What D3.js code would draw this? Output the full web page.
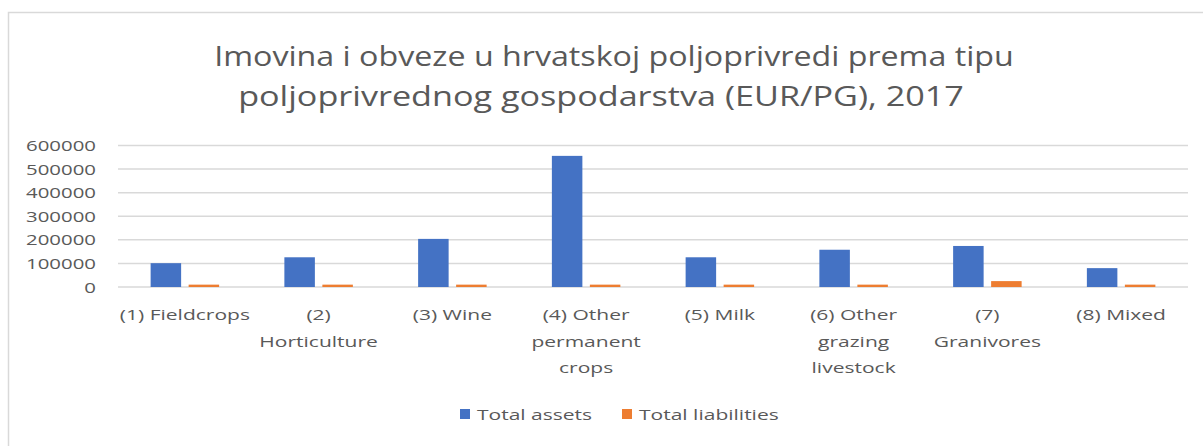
<!DOCTYPE html>
<html>
<head>
<meta charset="utf-8">
<script src="https://cdn.jsdelivr.net/npm/d3@7"></script>
<style>
  html, body { margin: 0; padding: 0; background: #fff; }
  svg { display: block; }
  text { font-family: "Open Sans", sans-serif; fill: #595959; }
</style>
</head>
<body>
<svg id="chart" width="1203" height="446"></svg>
<script>
const titleLines = ["Imovina i obveze u hrvatskoj poljoprivredi prema tipu", "poljoprivrednog gospodarstva (EUR/PG), 2017"];
const categories = ["(1) Fieldcrops", "(2) Horticulture", "(3) Wine", "(4) Other permanent crops", "(5) Milk", "(6) Other grazing livestock", "(7) Granivores", "(8) Mixed"];
const categoryLines = [["(1) Fieldcrops"], ["(2)", "Horticulture"], ["(3) Wine"], ["(4) Other", "permanent", "crops"], ["(5) Milk"], ["(6) Other", "grazing", "livestock"], ["(7)", "Granivores"], ["(8) Mixed"]];
const seriesNames = ["Total assets", "Total liabilities"];
const totalAssets = [101000, 126000, 204000, 556000, 126000, 158000, 174000, 80000];
const totalLiabilities = [10000, 10000, 10000, 10000, 10000, 10000, 25000, 10000];
const yTicks = [0, 100000, 200000, 300000, 400000, 500000, 600000];
const colors = ["#4472C4", "#ED7D31"];

const svg = d3.select("#chart");

function stretch(sel, k) {
  sel.each(function(d, i) {
    const w = this.getComputedTextLength();
    const f = Array.isArray(k) ? k[i] : k;
    d3.select(this).attr("textLength", w * f).attr("lengthAdjust", "spacingAndGlyphs");
  });
}

// border
svg.append("rect").attr("x", 8.5).attr("y", 12.5).attr("width", 1210).attr("height", 450)
  .attr("fill", "none").attr("stroke", "#D9D9D9").attr("stroke-width", 1.5);

// title
const titleX = [614, 601];
const tt = svg.append("g").selectAll("text").data(titleLines).join("text")
  .attr("x", (d, i) => titleX[i]).attr("y", (d, i) => 66 + i * 40)
  .attr("text-anchor", "middle").attr("font-size", 28).text(d => d);
stretch(tt, [1.15, 1.22]);

const x0 = d3.scaleBand().domain(categories).range([118, 1188]).paddingInner(0).paddingOuter(0);
const x1 = d3.scaleBand().domain(seriesNames).range([0, 68.5]).paddingInner(7.5 / 38).paddingOuter(0);
const y = d3.scaleLinear().domain([0, 600000]).range([287, 145.5]);

// gridlines
svg.append("g").selectAll("line").data(yTicks).join("line")
  .attr("x1", 118).attr("x2", 1188)
  .attr("y1", d => y(d)).attr("y2", d => y(d))
  .attr("stroke", "#D9D9D9").attr("stroke-width", 1.5);

// y axis labels
const yl = svg.append("g").selectAll("text").data(yTicks).join("text")
  .attr("x", 96).attr("y", d => y(d) + 5.5)
  .attr("text-anchor", "end").attr("font-size", 15).text(d => String(d));
stretch(yl, 1.36);

// bars
const series = [totalAssets, totalLiabilities];
const groups = svg.append("g").selectAll("g").data(categories).join("g")
  .attr("transform", c => `translate(${x0(c) + x0.bandwidth() / 2 - 34.25},0)`);
groups.selectAll("rect").data((c, i) => seriesNames.map((s, j) => ({ s, v: series[j][i], j })))
  .join("rect")
  .attr("x", d => x1(d.s)).attr("width", x1.bandwidth())
  .attr("y", d => y(d.v)).attr("height", d => y(0) - y(d.v))
  .attr("fill", d => colors[d.j]);

// x labels
categories.forEach((c, i) => {
  const t = svg.append("g").selectAll("text").data(categoryLines[i]).join("text")
    .attr("x", x0(c) + x0.bandwidth() / 2).attr("y", (d, k) => 320 + k * 26.5)
    .attr("text-anchor", "middle").attr("font-size", 15).text(d => d);
  stretch(t, 1.40);
});

// legend
const legendX = [460, 622];
const lg = svg.append("g").selectAll("g").data(seriesNames).join("g")
  .attr("transform", (d, i) => `translate(${legendX[i]},0)`);
lg.append("rect").attr("x", 0).attr("y", 409).attr("width", 10).attr("height", 10).attr("fill", (d, i) => colors[i]);
const lt = lg.append("text").attr("x", 17).attr("y", 419.5).attr("font-size", 15).text(d => d);
stretch(lt, 1.40);
</script>
</body>
</html>
